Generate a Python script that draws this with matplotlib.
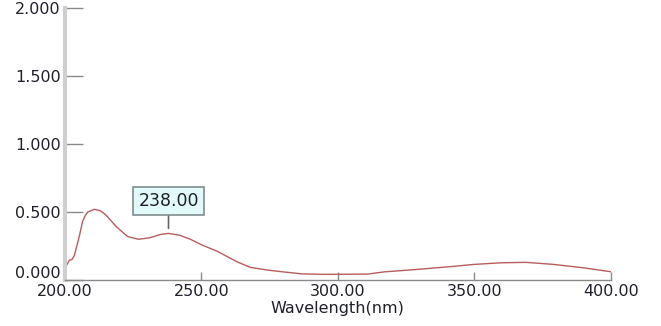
import matplotlib
matplotlib.use("Agg")
import matplotlib.pyplot as plt
import matplotlib.transforms as mtransforms

# spectrum
wavelength = [200, 201, 201.7, 202.6, 203.5, 204.4, 205.3, 206.5, 207.5, 208.4, 210.8,
              213, 215, 219, 223, 227, 231, 235, 238, 242, 246, 250, 256, 263,
              268, 274, 280, 287, 295, 300, 311, 317, 329, 341, 350, 360, 369,
              379, 390, 400]
absorbance = [0.088, 0.12, 0.147, 0.15, 0.18, 0.25, 0.32, 0.43, 0.475, 0.50, 0.52,
              0.51, 0.48, 0.39, 0.32, 0.30, 0.31, 0.335, 0.343, 0.33, 0.30, 0.26,
              0.21, 0.135, 0.093, 0.074, 0.06, 0.045, 0.042, 0.042, 0.044, 0.06,
              0.078, 0.098, 0.115, 0.127, 0.13, 0.115, 0.09, 0.061]

x_ticks = [200, 250, 300, 350, 400]
x_labels = ["200.00", "250.00", "300.00", "350.00", "400.00"]
y_ticks = [0.0, 0.5, 1.0, 1.5, 2.0]
y_labels = ["0.000", "0.500", "1.000", "1.500", "2.000"]

peak_wl = 238
peak_label = "238.00"

text_color = "#20202c"

fig = plt.figure(figsize=(6.61, 3.26), dpi=100)
ax = fig.add_axes([0.098, 0.141, 0.826, 0.834])

ax.plot(wavelength, absorbance, color="#b85c5c", lw=1.0)

ax.set_xlim(200, 400)
ax.set_ylim(0, 2.0)
ax.set_xticks(x_ticks)
ax.set_xticklabels(x_labels)
ax.set_yticks(y_ticks)
ax.set_yticklabels(y_labels)

ax.tick_params(axis="y", direction="in", length=13, width=1, color="#8a8a8a",
               pad=3, labelsize=11.5, labelcolor=text_color)
ax.tick_params(axis="x", direction="in", length=6, width=1, color="#8a8a8a",
               pad=3, labelsize=11.5, labelcolor=text_color)

for side in ["top", "right"]:
    ax.spines[side].set_visible(False)
ax.spines["left"].set_color("#cfcfcf")
ax.spines["left"].set_linewidth(3)
ax.spines["bottom"].set_color("#8a8a8a")
ax.spines["bottom"].set_linewidth(1)

# the 0.000 label sits a bit above its tick in the original
lab0 = ax.get_yticklabels()[0]
lab0.set_transform(lab0.get_transform() +
                   mtransforms.ScaledTranslation(0, 8 / 100, fig.dpi_scale_trans))

ax.set_xlabel("Wavelength(nm)", fontsize=11.5, color=text_color, labelpad=1)

ax.annotate(peak_label, xy=(peak_wl, 0.38), xytext=(peak_wl, 0.58),
            textcoords="data", ha="center", va="center", fontsize=12.5,
            color=text_color,
            bbox=dict(boxstyle="square,pad=0.28", fc="#e2fafa", ec="#7f8c8c", lw=1.2),
            arrowprops=dict(arrowstyle="-", color="#666666", lw=1.2,
                            shrinkA=0, shrinkB=0))

fig.savefig("out.png", dpi=100)
